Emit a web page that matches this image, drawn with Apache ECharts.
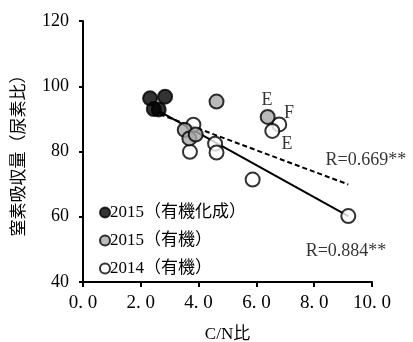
<!DOCTYPE html>
<html>
<head>
<meta charset="utf-8">
<script src="https://cdn.jsdelivr.net/npm/echarts@6/dist/echarts.min.js"></script>
<style>
  html, body { margin: 0; padding: 0; background: #fff; }
</style>
</head>
<body>
<div id="main" style="width: 413px;height:342px;"></div>
<script>
// データ
var seriesNames = ["2015（有機化成）", "2015（有機）", "2014（有機）"];
var kasei2015 = [[2.32, 96.3], [2.84, 96.8], [2.45, 93.0], [2.62, 92.9]];
var yuki2015 = [[4.62, 95.3], [6.39, 90.6], [3.52, 86.6], [3.68, 84.0], [3.9, 85.2]];
var yuki2014 = [[3.82, 88.2], [3.7, 79.9], [4.57, 82.4], [4.62, 79.7], [5.87, 71.4], [6.79, 88.3], [6.55, 86.3], [9.18, 60.2]];
var fitAll = [[2.66, 92.2], [9.18, 60.2]];
var fit2015 = [[2.66, 91.4], [9.18, 69.9]];
var notes = [
  { name: "E", value: [6.37, 95.8] },
  { name: "F", value: [7.13, 91.8] },
  { name: "E", value: [7.06, 82.3] },
  { name: "R=0.669**", value: [9.79, 77.4] },
  { name: "R=0.884**", value: [9.1, 49.4] }
];

var serif = "'Liberation Serif', 'DejaVu Serif', 'Noto Sans CJK JP', serif";
var myChart = echarts.init(document.getElementById("main"));

function pt(color) {
  return { color: color, borderColor: "#000", borderWidth: 2 };
}

var option = {
  animation: false,
  grid: { left: 83, right: 41, top: 21, bottom: 60, outerBoundsMode: "none", containLabel: false },
  legend: {
    orient: "vertical",
    left: 94,
    top: 199,
    itemGap: 11,
    itemWidth: 10,
    itemHeight: 10,
    icon: "circle",
    data: seriesNames,
    textStyle: { fontFamily: serif, fontSize: 17, color: "#000", padding: [0, 0, 0, -5] }
  },
  xAxis: {
    type: "value",
    min: 0, max: 10, interval: 2,
    name: "C/N比",
    nameLocation: "middle",
    nameGap: 44,
    nameTextStyle: { fontFamily: serif, fontSize: 17, color: "#000" },
    axisLine: { lineStyle: { color: "#000", width: 2 } },
    axisTick: { length: 5, lineStyle: { color: "#000", width: 2 } },
    axisLabel: {
      margin: 12, fontFamily: serif, fontSize: 19, color: "#000",
      formatter: function (v) { return v.toFixed(1).replace(".", ". "); }
    },
    splitLine: { show: false }
  },
  yAxis: {
    type: "value",
    min: 40, max: 120, interval: 20,
    name: "窒素吸収量（尿素比）",
    nameLocation: "middle",
    nameRotate: 90,
    nameGap: 57,
    nameTextStyle: { fontFamily: "'Noto Sans CJK JP', sans-serif", fontSize: 17, color: "#000" },
    axisLine: { show: true, lineStyle: { color: "#000", width: 2 } },
    axisTick: { show: true, length: 4, lineStyle: { color: "#000", width: 2 } },
    axisLabel: { margin: 14, fontFamily: serif, fontSize: 18, color: "#000" },
    splitLine: { show: false }
  },
  series: [
    {
      type: "line", data: fitAll, symbol: "none", silent: true, z: 1,
      lineStyle: { color: "#000", width: 2 }
    },
    {
      type: "line", data: fit2015, symbol: "none", silent: true, z: 1,
      lineStyle: { color: "#000", width: 2, type: [5, 3] }
    },
    {
      name: seriesNames[2], type: "scatter", data: yuki2014, symbolSize: 14, z: 3,
      itemStyle: pt("#fff")
    },
    {
      name: seriesNames[1], type: "scatter", data: yuki2015, symbolSize: 14, z: 4,
      itemStyle: pt("#a9a9a9")
    },
    {
      name: seriesNames[0], type: "scatter", data: kasei2015, symbolSize: 14, z: 5,
      itemStyle: pt("#000")
    },
    {
      type: "scatter", data: notes, symbolSize: 0, silent: true, z: 6,
      label: {
        show: true, position: "inside", formatter: "{b}",
        fontFamily: serif, fontSize: 18, color: "#000"
      }
    }
  ]
};

myChart.setOption(option);
</script>
</body>
</html>
